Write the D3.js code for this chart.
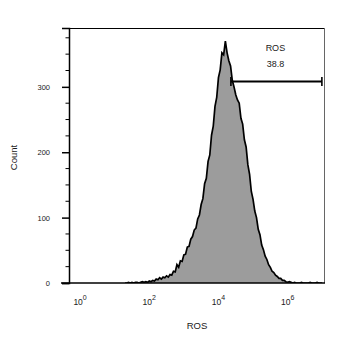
<!DOCTYPE html>
<html>
<head>
<meta charset="utf-8">
<script src="https://cdn.jsdelivr.net/npm/d3@7"></script>
<style>
  html, body { margin: 0; padding: 0; background: #fff; }
  svg { display: block; }
  text { font-family: "Liberation Sans", Arial, sans-serif; fill: #1a1a1a; }
</style>
</head>
<body>
<svg id="chart" width="345" height="346"></svg>
<script>
// ---- data ----
const rosExponent = [
  1.30,1.35,1.40,1.45,1.50,1.55,1.60,1.65,1.70,1.75,1.80,1.85,1.90,1.95,
  2.00,2.05,2.10,2.15,2.20,2.25,2.30,2.35,2.40,2.45,2.50,2.55,2.60,2.65,2.70,2.75,2.80,2.85,2.90,2.95,
  3.00,3.05,3.10,3.15,3.20,3.25,3.30,3.35,3.40,3.45,3.50,3.55,3.60,3.65,3.70,3.75,3.80,3.85,3.90,3.95,
  4.00,4.05,4.10,4.15,4.20,4.25,4.30,4.35,4.40,4.45,4.50,4.55,4.60,4.65,4.70,4.75,4.80,4.85,4.90,4.95,
  5.00,5.05,5.10,5.15,5.20,5.25,5.30,5.35,5.40,5.45,5.50,5.55,5.60,5.65,5.70,5.75,5.80,5.85,5.90,5.95,
  6.00,6.05,6.10,6.15,6.20,6.25,6.30,6.35,6.40,6.45,6.50,6.55,6.60,6.65,6.70,6.75,6.80,6.85,6.90,6.95,7.00
];
const counts = [
  0,0,1,0,1,0,1,1,0,1,2,1,2,1,
  3,2,4,3,6,5,8,6,9,8,11,9,13,12,18,17,28,24,34,33,
  43,44,55,56,67,71,81,84,98,104,120,129,152,160,186,196,226,240,270,284,
  314,326,352,349,370,352,340,332,310,300,288,280,275,252,243,219,208,181,166,140,
  128,110,100,82,74,58,51,41,36,28,24,18,16,12,10,7,7,4,4,2,
  1,2,1,0,1,0,0,0,1,0,0,0,0,1,0,0,0,1,0,0,0
];
const yTicks = [0, 100, 200, 300];
const yMinorTicks = [25, 50, 75, 125, 150, 175, 225, 250, 275, 325, 350, 375];
const xTickExponents = [0, 2, 4, 6];
const gate = { name: "ROS", value: "38.8", fromExp: 4.36, toExp: 6.99, count: 308 };
const xTitle = "ROS";
const yTitle = "Count";

// ---- layout ----
const svg = d3.select("#chart");
const pLeft = 69, pRight = 325, pTop = 28, pBottom = 283;

const x = d3.scaleLog()
  .domain([Math.pow(10, -0.32), Math.pow(10, 7.08)])
  .range([pLeft, pRight]);
const y = d3.scaleLinear().domain([0, 390]).range([pBottom, pTop]);

const hist = rosExponent.map((e, i) => ({ v: Math.pow(10, e), c: counts[i] }));

svg.append("clipPath").attr("id", "clip")
  .append("rect").attr("x", pLeft).attr("y", pTop).attr("width", pRight - pLeft).attr("height", pBottom - pTop);

const g = svg.append("g").attr("clip-path", "url(#clip)");

g.append("path")
  .datum(hist)
  .attr("fill", "#9c9c9c")
  .attr("d", d3.area().x(d => x(d.v)).y0(y(0)).y1(d => y(d.c)));

g.append("path")
  .datum(hist)
  .attr("fill", "none")
  .attr("stroke", "#000")
  .attr("stroke-width", 1.7)
  .attr("stroke-linejoin", "miter")
  .attr("d", d3.line().x(d => x(d.v)).y(d => y(d.c)));

// frame
svg.append("line").attr("x1", pLeft).attr("x2", pRight).attr("y1", pTop + 0.5).attr("y2", pTop + 0.5)
  .attr("stroke", "#000").attr("stroke-width", 1);
svg.append("line").attr("x1", pRight - 0.5).attr("x2", pRight - 0.5).attr("y1", pTop).attr("y2", pBottom)
  .attr("stroke", "#666").attr("stroke-width", 1);

// y axis
const yAxis = d3.axisLeft(y).tickValues(yTicks).tickSize(7).tickPadding(12).tickFormat(d3.format("d"));
const ya = svg.append("g").attr("transform", `translate(${pLeft},0)`).call(yAxis);
ya.select(".domain").attr("stroke", "#000").attr("stroke-width", 1.5);
ya.selectAll(".tick line").attr("stroke", "#000").attr("stroke-width", 1.5);
ya.selectAll(".tick text").style("font-size", "7.5px").style("fill", "#1a1a1a")
  .attr("font-family", "Liberation Sans, Arial, sans-serif");
ya.selectAll(".minor").data(yMinorTicks).enter().append("line")
  .attr("class", "minor")
  .attr("x1", -3.5).attr("x2", 0).attr("y1", d => y(d)).attr("y2", d => y(d))
  .attr("stroke", "#000").attr("stroke-width", 1);

// x axis (no tick marks, only labels)
const xa = svg.append("g").attr("transform", `translate(0,${pBottom})`);
xa.append("line").attr("x1", pLeft - 8).attr("x2", pRight).attr("y1", 0).attr("y2", 0)
  .attr("stroke", "#000").attr("stroke-width", 1.6);
const xl = xa.selectAll(".xl").data(xTickExponents).enter().append("text")
  .attr("class", "xl")
  .attr("x", d => x(Math.pow(10, d)))
  .attr("y", 22)
  .attr("text-anchor", "middle")
  .style("font-size", "8.5px");
xl.append("tspan").text("10");
xl.append("tspan").attr("dy", -5.5).style("font-size", "7px").text(d => d);

// titles
svg.append("text").attr("x", (pLeft + pRight) / 2).attr("y", 329)
  .attr("text-anchor", "middle").style("font-size", "9.5px").text(xTitle);
svg.append("text").attr("transform", `translate(16.5,${(pTop + pBottom) / 2 + 2}) rotate(-90)`)
  .attr("text-anchor", "middle").style("font-size", "9.5px").text(yTitle);

// gate
const gx1 = x(Math.pow(10, gate.fromExp)), gx2 = x(Math.pow(10, gate.toExp)), gy = y(gate.count);
const gg = svg.append("g").attr("stroke", "#000").attr("stroke-width", 2);
gg.append("line").attr("x1", gx1).attr("x2", gx2).attr("y1", gy).attr("y2", gy);
gg.append("line").attr("x1", gx1).attr("x2", gx1).attr("y1", gy - 4.5).attr("y2", gy + 4.5).attr("stroke-width", 1.6);
gg.append("line").attr("x1", gx2).attr("x2", gx2).attr("y1", gy - 4.5).attr("y2", gy + 4.5).attr("stroke-width", 1.6);
const gmid = x(Math.pow(10, (gate.fromExp + gate.toExp) / 2)) - 1;
svg.append("text").attr("x", gmid).attr("y", 51).attr("text-anchor", "middle")
  .style("font-size", "9px").text(gate.name);
svg.append("text").attr("x", gmid).attr("y", 67).attr("text-anchor", "middle")
  .style("font-size", "9px").text(gate.value);
</script>
</body>
</html>
